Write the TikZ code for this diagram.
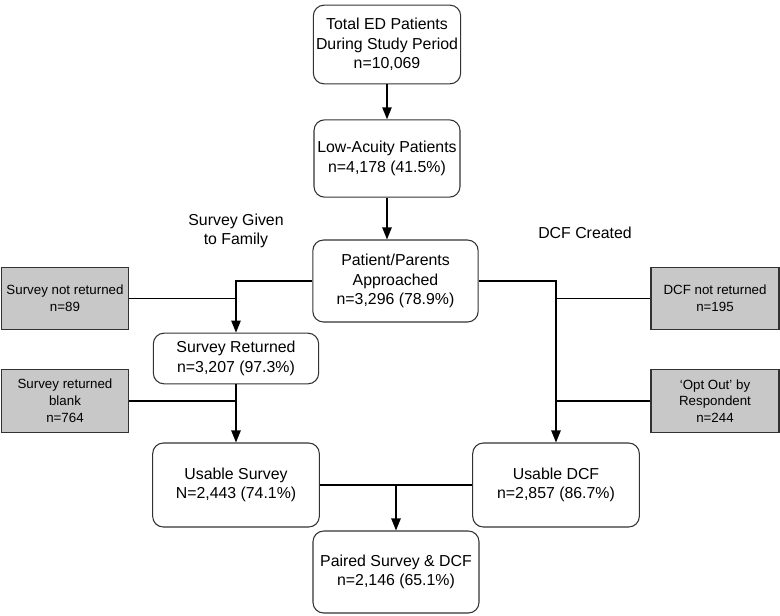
\documentclass[tikz,border=0pt]{standalone}
\usepackage{fontspec}
\setmainfont{Liberation Sans}
\usetikzlibrary{positioning,calc,arrows.meta}
\definecolor{boxgray}{RGB}{200,200,200}
\definecolor{edge}{RGB}{50,50,50}
\tikzset{
  stepbox/.style={draw=edge, rounded corners=8pt, align=center, line width=0.8pt,
    font=\fontsize{11.9}{14.6}\selectfont, inner sep=2pt},
  lossbox/.style={draw=edge, fill=boxgray, align=center, line width=0.8pt,
    font=\fontsize{10}{12.6}\selectfont, minimum width=95pt, minimum height=47pt, inner sep=2pt},
  flow/.style={line width=1.1pt},
  >={Triangle[length=9pt,width=7pt]}
}
\begin{document}
\begin{tikzpicture}[x=0.75pt,y=-0.75pt]
\useasboundingbox (0,0) rectangle (780,615);
% main column
\node [stepbox,minimum width=109.5pt,minimum height=59pt] (Ttotal) at (387,44.5)
  {Total ED Patients\\During Study Period\\n=10,069};
\node [stepbox,minimum width=109.5pt,minimum height=58pt] (Tlow) at (387,158.5)
  {Low-Acuity Patients\\n=4,178 (41.5\%)};
\node [stepbox,minimum width=124pt,minimum height=61.5pt] (Tappr) at (395.5,281)
  {Patient/Parents\\Approached\\n=3,296 (78.9\%)};
% survey side
\node [stepbox,minimum width=124pt,minimum height=38pt] (Sret) at (236,358.5)
  {Survey Returned\\n=3,207 (97.3\%)};
\node [stepbox,minimum width=125pt,minimum height=63pt] (Sus) at (236,485)
  {Usable Survey\\N=2,443 (74.1\%)};
% DCF side
\node [stepbox,minimum width=125pt,minimum height=63pt] (Dus) at (556,485)
  {Usable DCF\\n=2,857 (86.7\%)};
\node [stepbox,minimum width=124.5pt,minimum height=61.5pt] (Pair) at (396,572)
  {Paired Survey \& DCF\\n=2,146 (65.1\%)};
% losses
\node [lossbox] (Snr) at (65,298.5) {Survey not returned\\n=89};
\node [lossbox] (Sblank) at (65,401) {Survey returned\\blank\\n=764};
\node [lossbox,minimum width=96pt] (Dnr) at (715,298.5) {DCF not returned\\n=195};
\node [lossbox,minimum width=96pt] (Dopt) at (715,401) {`Opt Out' by\\Respondent\\n=244};
% branch labels
\node [align=center,font=\fontsize{11.9}{14.3}\selectfont] (Slab) at (236,231) {Survey Given\\to Family};
\node [font=\fontsize{11.9}{14.3}\selectfont] (Dlab) at (585,233) {DCF Created};

\draw [flow,->] (Ttotal) -- (Tlow);
\draw [flow,->] (Tlow.south) -- (Tlow.south |- Tappr.north);
\draw [flow,->] (Tappr.west) -| (Sret.north);
\draw [flow] (Snr.east) -- (Snr.east -| Sret.north);
\draw [flow,->] (Sret.south) -- (Sus.north);
\draw [flow] (Sblank.east) -- (Sblank.east -| Sret.south);
\draw [flow,->] (Tappr.east) -| (Dus.north);
\draw [flow] (Dnr.west) -- (Dnr.west -| Dus.north);
\draw [flow] (Dopt.west) -- (Dopt.west -| Dus.north);
\draw [flow] (Sus.east) -- (Dus.west);
\coordinate (Pjoin) at (Sus.east -| Pair.north);
\draw [flow,->] (Pjoin) -- (Pair.north);
\end{tikzpicture}
\end{document}
